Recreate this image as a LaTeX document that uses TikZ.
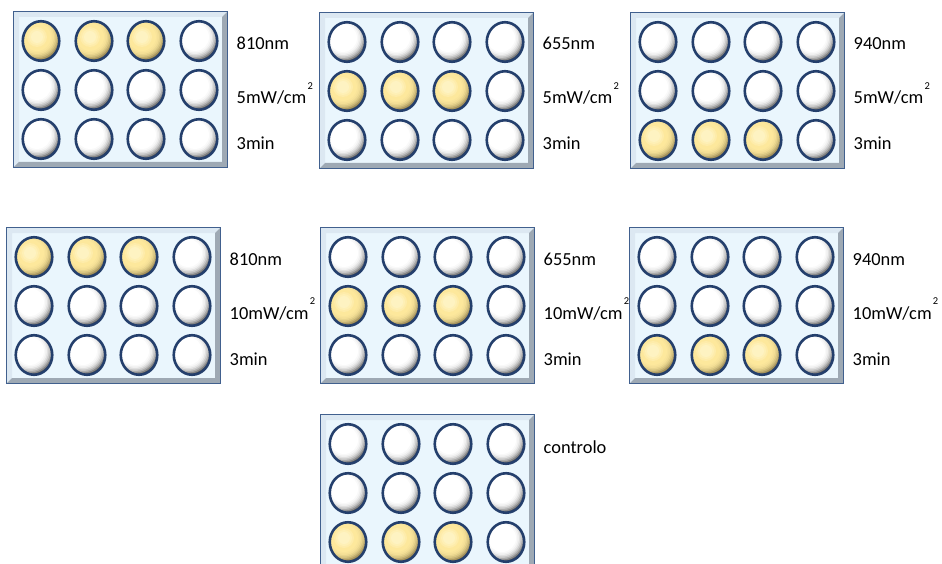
\documentclass[tikz,border=0pt]{standalone}
\usepackage{fontspec}
\setmainfont{Carlito}
\usetikzlibrary{shapes.geometric}
\definecolor{platefill}{HTML}{EAF6FD}
\definecolor{plateedge}{HTML}{41608E}
\definecolor{bevellight}{HTML}{DCE8F2}
\definecolor{beveldark}{HTML}{9EA9B4}
\definecolor{wellring}{HTML}{243F6C}
\definecolor{ylwa}{HTML}{FFF6CC}
\definecolor{ylwb}{HTML}{FDE89C}
\definecolor{ylwd}{HTML}{4A3C1C}
\tikzset{
  well/.style={ellipse, minimum width=36.5pt, minimum height=39.5pt, inner sep=0pt, draw=wellring, line width=2.6pt},
  wellwhite/.style={well, fill=black!85, path picture={%
      \coordinate (wc) at ([shift={(-4pt,4pt)}]path picture bounding box.center);
      \foreach \rr/\pp in {24.5/66,23/48,21.5/33,20/21,18.5/12,17/6,15.5/2.5,14/0}{\fill[black!\pp] (wc) circle[radius=\rr pt];}}},
  wellyellow/.style={well, fill=ylwd!90!ylwb, path picture={%
      \coordinate (wc) at ([shift={(-4pt,4pt)}]path picture bounding box.center);
      \foreach \rr/\pp in {24.5/66,23/48,21.5/32,20/20,18.5/11,17/5,15.5/2,14/0}{\fill[ylwd!\pp!ylwb] (wc) circle[radius=\rr pt];}
      \foreach \rr/\pp in {10/30,8/55,6/80}{\fill[ylwa!\pp!ylwb] (wc) circle[radius=\rr pt];}}},
  plate/.style={rectangle, minimum width=213pt, minimum height=155pt, inner sep=0pt, fill=platefill},
  lbl/.style={anchor=base west, inner sep=0pt, font=\fontsize{18.4pt}{20pt}\selectfont, text=black},
}
\newcommand\sqcm{\kern1.3pt\raisebox{14.5pt}{\fontsize{10.5pt}{11pt}\selectfont 2}}
\newcommand\drawplate[4]{%
  \begin{scope}[shift={(#2,#3)}]
    \node[plate] (#1) at (106.5,77.5) {};
    \fill[bevellight] (0,0) -- (213,0) -- (208,5) -- (5,5) -- (5,150) -- (0,155) -- cycle;
    \fill[beveldark] (213,0) -- (213,155) -- (0,155) -- (5,150) -- (208,150) -- (208,5) -- cycle;
    \draw[plateedge, line width=1.3pt] (#1.north west) rectangle (#1.south east);
    \foreach \r/\yy in {1/29,2/78,3/127}{%
      \foreach \c/\xx in {1/27,2/80,3/132,4/185}{%
        \ifnum\r=#4 \ifnum\c<4 \def\wst{wellyellow}\else\def\wst{wellwhite}\fi\else\def\wst{wellwhite}\fi
        \node[\wst] (#1-\r-\c) at (\xx,\yy) {};
      }%
    }%
  \end{scope}%
}
\begin{document}
\begin{tikzpicture}[x=1pt,y=-1pt]
\useasboundingbox (0,0) rectangle (942,564);
\fill[white] (0,0) rectangle (942,564);
\drawplate{pa}{14}{12}{1}
\drawplate{pb}{320}{13}{2}
\drawplate{pc}{631}{13}{3}
\drawplate{pd}{7}{228}{1}
\drawplate{pe}{321}{228}{2}
\drawplate{pf}{630}{228}{3}
\drawplate{pg}{321}{415}{3}
% labels
\node[lbl] (la1) at (236.5,50) {810nm};
\node[lbl] (la2) at (236.5,104) {5mW/cm\sqcm};
\node[lbl] (la3) at (236.5,150) {3min};
\node[lbl] (lb1) at (542.5,50) {655nm};
\node[lbl] (lb2) at (542.5,104) {5mW/cm\sqcm};
\node[lbl] (lb3) at (542.5,150) {3min};
\node[lbl] (lc1) at (853.5,50) {940nm};
\node[lbl] (lc2) at (853.5,104) {5mW/cm\sqcm};
\node[lbl] (lc3) at (853.5,150) {3min};
\node[lbl] (ld1) at (229.5,265) {810nm};
\node[lbl] (ld2) at (229.5,319) {10mW/cm\sqcm};
\node[lbl] (ld3) at (229.5,365) {3min};
\node[lbl] (le1) at (543.5,265) {655nm};
\node[lbl] (le2) at (543.5,319) {10mW/cm\sqcm};
\node[lbl] (le3) at (543.5,365) {3min};
\node[lbl] (lf1) at (852.5,265) {940nm};
\node[lbl] (lf2) at (852.5,319) {10mW/cm\sqcm};
\node[lbl] (lf3) at (852.5,365) {3min};
\node[lbl] (lg1) at (543.5,453) {controlo};
\end{tikzpicture}
\end{document}
